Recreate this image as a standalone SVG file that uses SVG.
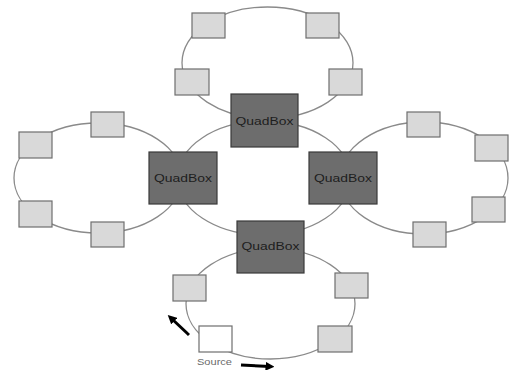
<svg xmlns="http://www.w3.org/2000/svg" width="513" height="370" viewBox="0 0 513 370">
<style>
.ring{fill:none;stroke:#8a8a8a;stroke-width:1.3}
.qb{fill:#6d6d6d;stroke:#3a3a3a;stroke-width:1.2}
.sb{fill:#d9d9d9;stroke:#6e6e6e;stroke-width:1.2}
.src{fill:#ffffff;stroke:#6e6e6e;stroke-width:1.2}
.ql{font-family:"Liberation Sans",Arial,sans-serif;font-size:11px;fill:#1e1e1e;text-anchor:middle}
.sl{font-family:"Liberation Sans",Arial,sans-serif;font-size:9px;fill:#6a6a6a}
.arr{stroke:#000;stroke-width:3;fill:none}
</style>
<defs>
<marker id="ah" viewBox="0 0 10 10" refX="5" refY="5" markerWidth="3" markerHeight="3" orient="auto" markerUnits="strokeWidth">
<path d="M0,0 L10,5 L0,10 z" fill="#000"/>
</marker>
</defs>
<rect width="513" height="370" fill="#fff"/>
<g id="connectors">
<ellipse class="ring" cx="264" cy="178" rx="87" ry="57"/>
<ellipse class="ring" cx="267.5" cy="62.7" rx="85.5" ry="55.7"/>
<ellipse class="ring" cx="98" cy="178" rx="84" ry="55"/>
<ellipse class="ring" cx="424" cy="178" rx="84" ry="56"/>
<ellipse class="ring" cx="270.5" cy="303.7" rx="84.5" ry="55.3"/>
<line class="arr" x1="189" y1="335" x2="171" y2="318" marker-end="url(#ah)"/>
<line class="arr" x1="241" y1="365" x2="270" y2="366.5" marker-end="url(#ah)"/>
</g>
<g id="qb-top"><rect class="qb" x="231" y="94" width="67" height="53"/><text class="ql" x="264.5" y="125" textLength="58" lengthAdjust="spacingAndGlyphs">QuadBox</text></g>
<g id="qb-left"><rect class="qb" x="149" y="152" width="68" height="52"/><text class="ql" x="183" y="182" textLength="58" lengthAdjust="spacingAndGlyphs">QuadBox</text></g>
<g id="qb-right"><rect class="qb" x="309" y="152" width="68" height="52"/><text class="ql" x="343" y="182" textLength="58" lengthAdjust="spacingAndGlyphs">QuadBox</text></g>
<g id="qb-bottom"><rect class="qb" x="237" y="221" width="67" height="52"/><text class="ql" x="270.5" y="250" textLength="58" lengthAdjust="spacingAndGlyphs">QuadBox</text></g>
<g id="t1"><rect class="sb" x="192" y="13" width="33" height="25"/></g>
<g id="t2"><rect class="sb" x="306" y="13" width="33" height="25"/></g>
<g id="t3"><rect class="sb" x="175" y="69" width="34" height="26"/></g>
<g id="t4"><rect class="sb" x="329" y="69" width="33" height="26"/></g>
<g id="l1"><rect class="sb" x="19" y="132" width="33" height="26"/></g>
<g id="l2"><rect class="sb" x="91" y="112" width="33" height="25"/></g>
<g id="l3"><rect class="sb" x="19" y="201" width="33" height="26"/></g>
<g id="l4"><rect class="sb" x="91" y="222" width="33" height="25"/></g>
<g id="r1"><rect class="sb" x="407" y="112" width="33" height="25"/></g>
<g id="r2"><rect class="sb" x="475" y="135" width="33" height="26"/></g>
<g id="r3"><rect class="sb" x="472" y="197" width="33" height="25"/></g>
<g id="r4"><rect class="sb" x="413" y="222" width="33" height="25"/></g>
<g id="b1"><rect class="sb" x="173" y="275" width="33" height="26"/></g>
<g id="b2"><rect class="sb" x="335" y="273" width="33" height="25"/></g>
<g id="b3"><rect class="sb" x="318" y="326" width="34" height="26"/></g>
<g id="source"><rect class="src" x="199" y="326" width="33" height="26"/><text class="sl" x="197" y="365" textLength="35" lengthAdjust="spacingAndGlyphs">Source</text></g>
</svg>
